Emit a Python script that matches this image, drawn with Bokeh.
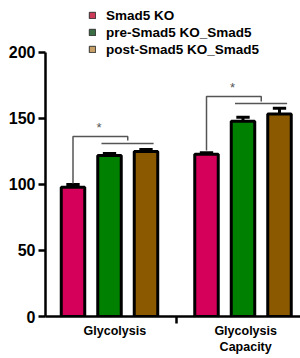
from bokeh.plotting import figure
from bokeh.models import Legend, LegendItem, FixedTicker, LinearAxis, ColumnDataSource
from bokeh.core.properties import value
from bokeh.embed import file_html
from bokeh.resources import INLINE

# ---- data ----
categories = ["Glycolysis", "Glycolysis\nCapacity"]
series = ["Smad5 KO", "pre-Smad5 KO_Smad5", "post-Smad5 KO_Smad5"]
smad5_ko = [98, 123]
pre_ko = [122, 148]
post_ko = [125, 153.5]
smad5_ko_err = [2, 1]
pre_ko_err = [1.5, 3]
post_ko_err = [1.5, 4.3]
y_ticks = [0, 50, 100, 150, 200]

# significance brackets (value units): top line, right drop end, second line, left start
sig_top = [136.4, 166.7]
sig_drop = [133.3, 162.9]
sig_second = [131.1, 161.4]
sig_left_bottom = [100.8, 125.8]
sig_label = ["*", "*"]

# ---- style / layout ----
bar_colors = ["#d4005a", "#008000", "#8b5a00"]
legend_colors = ["#cc3a58", "#3c6e46", "#c6a066"]
FONT = "Liberation Sans"
group_x = [1, 2]
label_x = [1.04, 2.02]
offsets = [-0.2734, 0.0, 0.2734]
bar_w = 0.176
cap_w = 0.1

p = figure(width=300, height=358, x_range=(0.5206, 2.4307), y_range=(0, 239.39),
           output_backend="svg", toolbar_location=None,
           min_border_left=45, min_border_right=0, min_border_top=0, min_border_bottom=42,
           outline_line_color=None, x_axis_type=None, y_axis_type=None)
p.xgrid.visible = False
p.ygrid.visible = False
p.background_fill_color = "white"
p.border_fill_color = "white"

values = [smad5_ko, pre_ko, post_ko]
errs = [smad5_ko_err, pre_ko_err, post_ko_err]

for vals, err, col, off in zip(values, errs, bar_colors, offsets):
    xs = [g + off for g in group_x]
    src = ColumnDataSource(dict(
        x=xs, top=vals,
        up=[v + e for v, e in zip(vals, err)],
        cl=[x - cap_w / 2 for x in xs], cr=[x + cap_w / 2 for x in xs],
    ))
    p.segment(x0="x", y0="top", x1="x", y1="up", source=src, line_color="black", line_width=3)
    p.segment(x0="cl", y0="up", x1="cr", y1="up", source=src, line_color="black", line_width=3)
    p.vbar(x="x", top="top", bottom=0, width=bar_w, source=src, fill_color=col,
           line_color="black", line_width=3)

# significance brackets
br_xs, br_ys, sec_x0, sec_x1, sec_y, star_x, star_y = [], [], [], [], [], [], []
for i, g in enumerate(group_x):
    x_left = g + offsets[0]
    x_mid = g + (offsets[1] + offsets[2]) / 2
    br_xs.append([x_left, x_left, x_mid, x_mid])
    br_ys.append([sig_left_bottom[i], sig_top[i], sig_top[i], sig_drop[i]])
    sec_x0.append(g + offsets[1] - 0.06)
    sec_x1.append(g + offsets[2] + 0.057)
    sec_y.append(sig_second[i])
    star_x.append((x_left + x_mid) / 2 - 0.01)
    star_y.append(sig_top[i] + 1.0)
p.multi_line(xs=br_xs, ys=br_ys, line_color="#555555", line_width=1.5)
p.segment(x0=sec_x0, y0=sec_y, x1=sec_x1, y1=sec_y, line_color="#555555", line_width=1.5)
p.text(x=star_x, y=star_y, text=sig_label, text_align="center", text_baseline="bottom",
       text_font=value(FONT), text_font_size="13px", text_color="#555555")

# axes
yaxis = LinearAxis(ticker=FixedTicker(ticks=y_ticks, minor_ticks=[]), bounds=(0, 200))
yaxis.axis_line_width = 2.5
yaxis.major_tick_line_width = 2.5
yaxis.major_tick_out = 7
yaxis.major_tick_in = 0
yaxis.minor_tick_out = 0
yaxis.major_label_standoff = 3
yaxis.major_label_text_font = FONT
yaxis.major_label_text_font_style = "bold"
yaxis.major_label_text_font_size = "16px"
yaxis.major_label_text_color = "black"
p.add_layout(yaxis, "left")

xaxis = LinearAxis(ticker=FixedTicker(ticks=label_x, minor_ticks=[1.5]),
                   major_label_overrides={label_x[0]: categories[0], label_x[1]: categories[1]})
xaxis.axis_line_width = 2.5
xaxis.major_tick_out = 0
xaxis.major_tick_in = 0
xaxis.minor_tick_out = 7
xaxis.minor_tick_in = 0
xaxis.minor_tick_line_width = 2.5
xaxis.minor_tick_line_color = "black"
xaxis.major_label_standoff = 0
xaxis.major_label_text_font = FONT
xaxis.major_label_text_font_style = "bold"
xaxis.major_label_text_font_size = "12.5px"
xaxis.major_label_text_color = "black"
p.add_layout(xaxis, "below")

# legend swatches: renderers holding a single undrawable (NaN) bar
nan = float("nan")
items = []
for name, col in zip(series, legend_colors):
    r = p.vbar(x=[nan], top=[nan], width=0.1, fill_color=col, line_color="#333333", line_width=1)
    items.append(LegendItem(label=name, renderers=[r]))
legend = Legend(items=items, location=(43, 259), padding=0, margin=0, spacing=1,
                glyph_width=8, glyph_height=8, label_height=16, label_standoff=10,
                label_text_font=FONT, label_text_font_style="bold",
                label_text_font_size="13.5px", label_text_color="black",
                background_fill_alpha=0, border_line_color=None)
p.add_layout(legend)

open("out.html", "w").write(file_html(p, INLINE))
